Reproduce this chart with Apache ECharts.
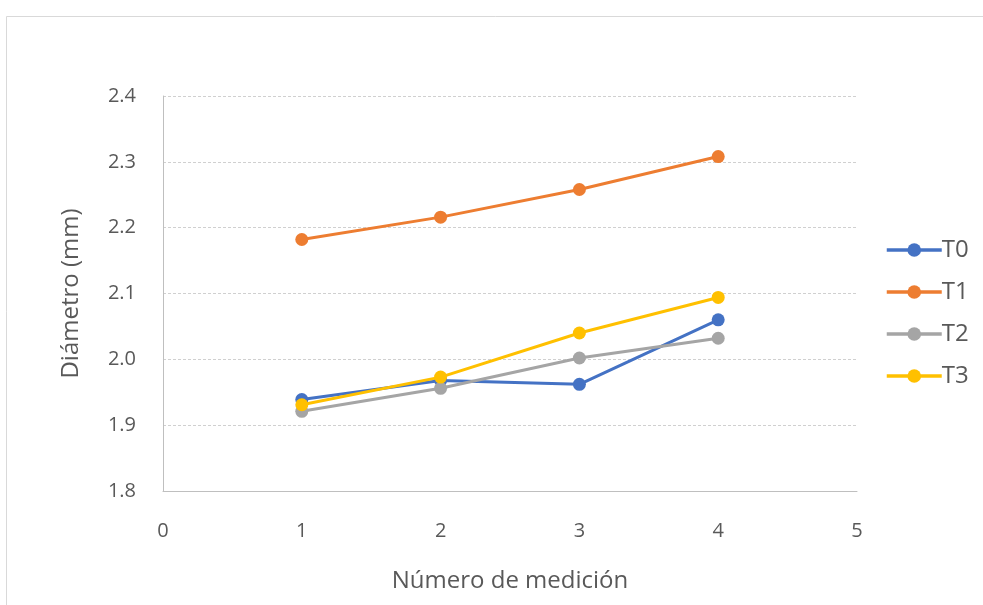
<!DOCTYPE html>
<html>
<head>
<meta charset="utf-8">
<script src="https://cdn.jsdelivr.net/npm/echarts@6/dist/echarts.min.js"></script>
<style>
  html, body { margin: 0; padding: 0; background: #fff; }
  #chart { width: 983px; height: 605px; }
</style>
</head>
<body>
<div id="chart"></div>
<script>
// Measurement numbers (x) and mean diameter per treatment (mm)
const mediciones = [1, 2, 3, 4];
const T0 = [1.939, 1.968, 1.962, 2.060];
const T1 = [2.182, 2.216, 2.258, 2.308];
const T2 = [1.921, 1.956, 2.002, 2.032];
const T3 = [1.931, 1.973, 2.040, 2.094];
const seriesNames = ['T0', 'T1', 'T2', 'T3'];
const seriesColors = ['#4472C4', '#ED7D31', '#A5A5A5', '#FFC000'];

const values = [T0, T1, T2, T3];
const font = '"Open Sans", sans-serif';
const textGray = '#595959';

const chart = echarts.init(document.getElementById('chart'), null, { renderer: 'canvas' });

chart.setOption({
  animation: false,
  backgroundColor: '#ffffff',
  textStyle: { fontFamily: font },
  graphic: [{
    type: 'rect',
    left: 4, top: 14,
    shape: { width: 1100, height: 700 },
    style: { fill: 'none', stroke: '#d9d9d9', lineWidth: 1 },
    silent: true
  }],
  grid: { left: 163, top: 96, right: 126, bottom: 114 },
  legend: {
    orient: 'vertical',
    left: 880,
    top: 233,
    itemWidth: 55,
    itemHeight: 17,
    itemGap: 18,
    lineStyle: { width: 3.5 },
    textStyle: { fontSize: 24, color: textGray, fontFamily: font, padding: [0, 0, 0, -5] },
    data: seriesNames
  },
  xAxis: {
    type: 'value',
    min: 0, max: 5, interval: 1,
    name: 'Número de medición',
    nameLocation: 'middle',
    nameGap: 78,
    nameTextStyle: { fontSize: 24, color: textGray },
    axisLine: { show: true, onZero: false, lineStyle: { color: '#bfbfbf', width: 1 } },
    axisTick: { show: false },
    axisLabel: { fontSize: 20, color: textGray, margin: 30 },
    splitLine: { show: false }
  },
  yAxis: {
    type: 'value',
    min: 1.8, max: 2.4, interval: 0.1,
    name: 'Diámetro (mm)',
    nameLocation: 'middle',
    nameGap: 80,
    nameTextStyle: { fontSize: 24, color: textGray },
    axisLine: { show: true, lineStyle: { color: '#bfbfbf', width: 1 } },
    axisTick: { show: false },
    axisLabel: {
      fontSize: 20, color: textGray, margin: 27,
      formatter: v => v.toFixed(1)
    },
    splitLine: { show: true, lineStyle: { color: '#d0d0d0', type: [3, 2], width: 1 } }
  },
  series: seriesNames.map((name, i) => ({
    name: name,
    type: 'line',
    data: mediciones.map((m, j) => [m, values[i][j]]),
    symbol: 'circle',
    symbolSize: 13,
    lineStyle: { width: 3, color: seriesColors[i] },
    itemStyle: { color: seriesColors[i] },
    z: 2 + i
  }))
});
</script>
</body>
</html>
